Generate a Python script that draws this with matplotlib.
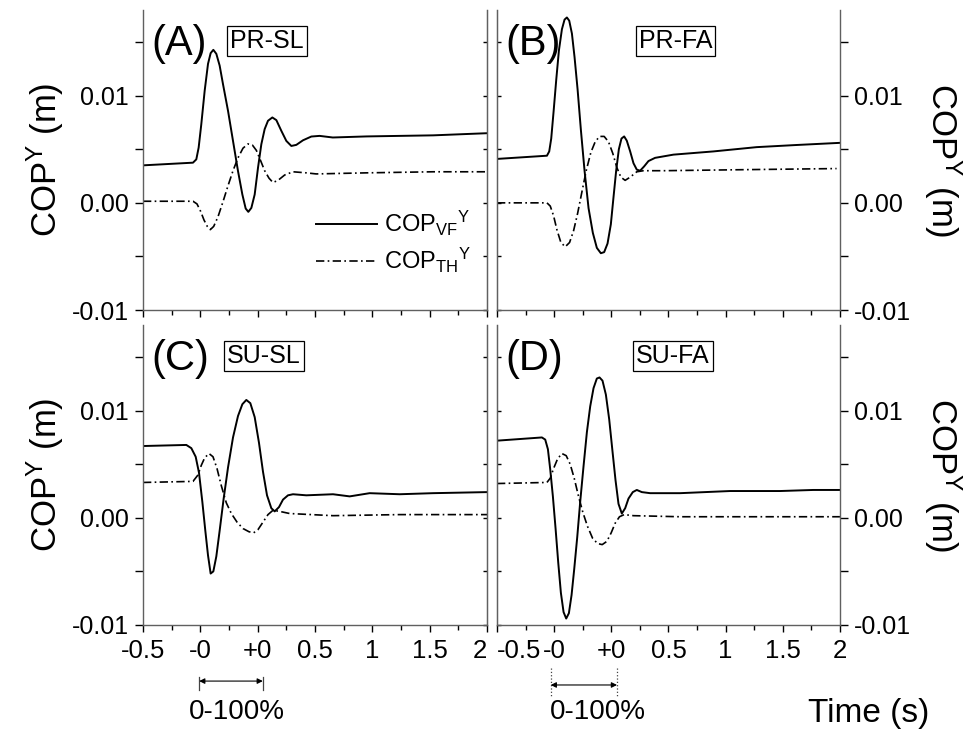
import matplotlib
matplotlib.use('Agg')
import matplotlib.pyplot as plt

plt.rcParams['font.family'] = ['Liberation Sans', 'DejaVu Sans']
plt.rcParams['mathtext.fontset'] = 'custom'
plt.rcParams['mathtext.rm'] = 'Liberation Sans'
plt.rcParams['mathtext.it'] = 'Liberation Sans:italic'

# x axis is piecewise: 0 -> -0.5 s, 1 -> movement start (0 %), 2 -> movement end (100 %), 6 -> +2 s
x_ticks = [0, 1, 2, 3, 4, 5, 6]
x_ticklabels = ['-0.5', '-0', '+0', '0.5', '1', '1.5', '2']
y_ticks = [-0.01, 0.0, 0.01]
y_ticklabels = ['-0.01', '0.00', '0.01']

# (A) PR-SL
t_vf_A = [0, 0.872, 0.930, 0.971, 1.017, 1.076, 1.134, 1.180, 1.227, 1.279, 1.337, 1.395, 1.483, 1.570,
          1.657, 1.733, 1.791, 1.837, 1.890, 1.948, 2.006, 2.064, 2.122, 2.180, 2.256, 2.326, 2.413, 2.500,
          2.587, 2.674, 2.791, 2.936, 3.08, 3.31, 3.90, 4.48, 5.06, 6.0]
vf_A = [0.0035, 0.00375, 0.00406, 0.00516, 0.00734, 0.01047, 0.01297, 0.01397, 0.01428, 0.01391, 0.01281,
        0.01109, 0.00859, 0.00578, 0.00297, 0.00078, -0.00053, -0.00084, -0.00047, 0.00078, 0.00328, 0.00547,
        0.00688, 0.00766, 0.00797, 0.00772, 0.00672, 0.00578, 0.00531, 0.00541, 0.00584, 0.00619, 0.00625,
        0.0061, 0.0062, 0.00625, 0.0063, 0.0065]
t_th_A = [0, 0.872, 0.942, 1.006, 1.064, 1.122, 1.174, 1.233, 1.308, 1.395, 1.483, 1.570, 1.657, 1.744,
          1.831, 1.907, 1.977, 2.047, 2.122, 2.198, 2.267, 2.355, 2.471, 2.616, 2.849, 3.02, 3.9, 5.06, 6.0]
th_A = [0.00015, 0.00015, -0.0001, -0.0008, -0.0016, -0.0022, -0.0025, -0.0022, -0.0013, 0.0001, 0.0016,
        0.0030, 0.0042, 0.0051, 0.0055, 0.0054, 0.0049, 0.0040, 0.0030, 0.0023, 0.0019, 0.0021, 0.0026,
        0.0029, 0.0028, 0.0027, 0.0028, 0.0029, 0.0029]

# (B) PR-FA
t_vf_B = [0, 0.874, 0.914, 0.949, 0.990, 1.037, 1.083, 1.136, 1.182, 1.223, 1.264, 1.311, 1.357, 1.410,
          1.468, 1.532, 1.602, 1.677, 1.747, 1.817, 1.875, 1.934, 1.992, 2.038, 2.085, 2.132, 2.178, 2.225,
          2.271, 2.330, 2.388, 2.446, 2.504, 2.574, 2.650, 2.766, 3.087, 3.786, 4.543, 5.242, 6.0]
vf_B = [0.0041, 0.0044, 0.0048, 0.0060, 0.0085, 0.0115, 0.0142, 0.0162, 0.0171, 0.0173, 0.0170, 0.0158,
        0.0136, 0.0106, 0.0068, 0.0030, -0.0005, -0.0028, -0.0042, -0.0047, -0.0046, -0.0038, -0.0020,
        0.0005, 0.0030, 0.0050, 0.0060, 0.0062, 0.0058, 0.0048, 0.0037, 0.0031, 0.0030, 0.0034, 0.0039,
        0.0042, 0.0045, 0.0048, 0.0052, 0.0054, 0.0056]
t_th_B = [0, 0.874, 0.932, 0.990, 1.048, 1.118, 1.194, 1.270, 1.340, 1.410, 1.485, 1.561, 1.642, 1.718,
          1.794, 1.875, 1.951, 2.027, 2.097, 2.167, 2.242, 2.330, 2.446, 2.563, 2.912, 4.368, 5.941]
th_B = [0.0, 0.0, -0.0003, -0.0012, -0.0025, -0.0037, -0.0041, -0.0037, -0.0026, -0.0010, 0.0010, 0.0030,
        0.0047, 0.0057, 0.0062, 0.0062, 0.0057, 0.0046, 0.0033, 0.0024, 0.0021, 0.0024, 0.0029, 0.0030,
        0.0030, 0.0031, 0.0032]

# (C) SU-SL
t_vf_C = [0, 0.756, 0.843, 0.919, 0.977, 1.035, 1.087, 1.134, 1.180, 1.227, 1.279, 1.337, 1.407, 1.483,
          1.570, 1.657, 1.733, 1.802, 1.872, 1.948, 2.023, 2.093, 2.163, 2.238, 2.297, 2.372, 2.442, 2.529,
          2.616, 2.849, 3.314, 3.605, 3.953, 4.477, 5.058, 6.0]
vf_C = [0.0067, 0.0068, 0.0065, 0.0057, 0.0042, 0.0015, -0.0012, -0.0035, -0.0052, -0.0050, -0.0036,
        -0.0012, 0.0018, 0.0047, 0.0075, 0.0095, 0.0106, 0.0110, 0.0107, 0.0094, 0.0070, 0.0043, 0.0021,
        0.0009, 0.0006, 0.0010, 0.0017, 0.0021, 0.0022, 0.0021, 0.0022, 0.0020, 0.0023, 0.0022, 0.0023,
        0.0024]
t_th_C = [0, 0.872, 0.959, 1.017, 1.076, 1.151, 1.221, 1.291, 1.366, 1.453, 1.541, 1.640, 1.744, 1.849,
          1.930, 2.006, 2.093, 2.180, 2.267, 2.384, 2.558, 3.314, 4.477, 6.0]
th_C = [0.0033, 0.0034, 0.0040, 0.0049, 0.0056, 0.0060, 0.0057, 0.0046, 0.0030, 0.0014, 0.0004, -0.0004,
        -0.0010, -0.0013, -0.0014, -0.0011, -0.0004, 0.0003, 0.0007, 0.0006, 0.0004, 0.0002, 0.0003, 0.0003]

# (D) SU-FA
t_vf_D = [0, 0.786, 0.844, 0.891, 0.932, 0.978, 1.025, 1.072, 1.118, 1.165, 1.211, 1.258, 1.305, 1.351,
          1.404, 1.456, 1.514, 1.573, 1.631, 1.689, 1.747, 1.794, 1.846, 1.905, 1.963, 2.021, 2.074, 2.126,
          2.184, 2.243, 2.301, 2.376, 2.446, 2.534, 2.679, 3.203, 4.077, 4.951, 5.533, 6.0]
vf_D = [0.0072, 0.0075, 0.0073, 0.0064, 0.0045, 0.0020, -0.0010, -0.0042, -0.0070, -0.0088, -0.0094,
        -0.0089, -0.0072, -0.0048, -0.0018, 0.0015, 0.0048, 0.0080, 0.0104, 0.0121, 0.0130, 0.0131, 0.0128,
        0.0115, 0.0092, 0.0062, 0.0035, 0.0013, 0.0004, 0.0009, 0.0018, 0.0024, 0.0026, 0.0024, 0.0023,
        0.0023, 0.0025, 0.0025, 0.0026, 0.0026]
t_th_D = [0, 0.874, 0.932, 0.990, 1.060, 1.136, 1.211, 1.281, 1.351, 1.427, 1.503, 1.584, 1.672, 1.759,
          1.841, 1.922, 1.998, 2.068, 2.143, 2.225, 2.388, 3.203, 4.368, 6.0]
th_D = [0.0032, 0.0033, 0.0037, 0.0046, 0.0055, 0.0060, 0.0058, 0.0050, 0.0037, 0.0020, 0.0005, -0.0008,
        -0.0019, -0.0024, -0.0025, -0.0022, -0.0014, -0.0005, 0.0001, 0.0003, 0.0002, 0.0001, 0.0001, 0.0001]

panels = [
    ('(A)', 'PR-SL', t_vf_A, vf_A, t_th_A, th_A),
    ('(B)', 'PR-FA', t_vf_B, vf_B, t_th_B, th_B),
    ('(C)', 'SU-SL', t_vf_C, vf_C, t_th_C, th_C),
    ('(D)', 'SU-FA', t_vf_D, vf_D, t_th_D, th_D),
]
box_x = [0.36, 0.52, 0.352, 0.513]

spine_color = '#606060'
dashdot = (0, (5, 2, 1, 2))

fig = plt.figure(figsize=(9.76, 7.39), dpi=100)
rects = [
    [0.1465, 0.5805, 0.3525, 0.406],
    [0.5092, 0.5805, 0.3514, 0.406],
    [0.1465, 0.1543, 0.3525, 0.406],
    [0.5092, 0.1543, 0.3514, 0.406],
]

for i, (letter, cond, tv, vf, tt, th) in enumerate(panels):
    ax = fig.add_axes(rects[i])
    ax.plot(tv, vf, color='black', lw=1.4, label=r'COP$_\mathrm{VF}{}^\mathrm{Y}$')
    ax.plot(tt, th, color='black', lw=1.2, linestyle=dashdot, label=r'COP$_\mathrm{TH}{}^\mathrm{Y}$')
    ax.set_xlim(0, 6)
    ax.set_ylim(-0.01, 0.018)

    ax.set_xticks(x_ticks)
    ax.set_xticks([0.5, 1.5, 2.5, 3.5, 4.5, 5.5], minor=True)
    ax.set_yticks(y_ticks)
    ax.set_yticks([-0.005, 0.005, 0.015], minor=True)
    ax.set_yticklabels(y_ticklabels)
    ax.spines['top'].set_visible(False)
    for s in ax.spines.values():
        s.set_color(spine_color)
        s.set_linewidth(1.0)

    right = i % 2 == 1
    bottom = i >= 2
    if bottom:
        ax.set_xticklabels(x_ticklabels)
        # keep "2" and "-0.5" apart where the two panels meet
        if right:
            ax.get_xticklabels()[0].set_horizontalalignment('left')
        else:
            ax.get_xticklabels()[-1].set_horizontalalignment('right')
    else:
        ax.set_xticklabels([])
    ax.tick_params(axis='x', which='major', direction='out', length=5, width=1.0, labelsize=18.5, pad=5)
    ax.tick_params(axis='x', which='minor', direction='out', length=3.5, width=1.0)
    ax.tick_params(axis='y', which='both', direction='out', length=6, width=1.0, labelsize=18, pad=4)

    if right:
        ax.yaxis.tick_right()
        ax.yaxis.set_label_position('right')
        ax.set_ylabel(r'COP$^\mathrm{Y}$ (m)', fontsize=25, rotation=270, labelpad=38)
        inner = ax.secondary_yaxis('left')
        inner.tick_params(which='both', direction='in', length=3, width=1.0, labelleft=False)
        inner.spines['left'].set_color(spine_color)
    else:
        ax.set_ylabel(r'COP$^\mathrm{Y}$ (m)', fontsize=25, labelpad=4)
        inner = ax.secondary_yaxis('right')
        inner.tick_params(which='both', direction='in', length=3, width=1.0, labelright=False)
        inner.spines['right'].set_color(spine_color)
    inner.set_yticks(y_ticks)
    inner.set_yticks([-0.005, 0.005, 0.015], minor=True)

    ax.text(0.025, 0.885, letter, transform=ax.transAxes, fontsize=30, ha='left', va='center')
    ax.text(box_x[i], 0.895, cond, transform=ax.transAxes, fontsize=18, ha='center', va='center',
            bbox=dict(boxstyle='square,pad=0.12', facecolor='white', edgecolor='black', linewidth=0.9))

    if i == 0:
        ax.legend(loc='lower left', bbox_to_anchor=(0.44, 0.045), frameon=False, fontsize=17,
                  handlelength=2.6, labelspacing=0.35, handletextpad=0.3)

    # 0-100% indicator below the bottom panels
    if bottom:
        tr = ax.get_xaxis_transform()
        if right:
            x0, x1, ls = 0.94, 2.1, ':'
            ax.plot([x0, x0], [-0.143, -0.24], transform=tr, clip_on=False, color='#444444', lw=0.9, ls=ls)
            ax.plot([x1, x1], [-0.143, -0.24], transform=tr, clip_on=False, color='#444444', lw=0.9, ls=ls)
            ya, yt, xt = -0.2, -0.29, 1.77
        else:
            x0, x1 = 0.98, 2.09
            ax.plot([x0, x0], [-0.173, -0.217], transform=tr, clip_on=False, color='#444444', lw=0.9)
            ax.plot([x1, x1], [-0.173, -0.217], transform=tr, clip_on=False, color='#444444', lw=0.9)
            ya, yt, xt = -0.187, -0.29, 1.64
        ax.annotate('', xy=(x0, ya), xytext=(x1, ya), xycoords=tr, textcoords=tr,
                    arrowprops=dict(arrowstyle='<|-|>', color='black', lw=0.8, mutation_scale=8,
                                    shrinkA=0, shrinkB=0), annotation_clip=False)
        ax.text(xt, yt, '0-100%', transform=tr, fontsize=20, ha='center', va='center')

fig.text(0.89, 0.035, 'Time (s)', fontsize=24, ha='center', va='center')

fig.savefig('out.png', dpi=100)
